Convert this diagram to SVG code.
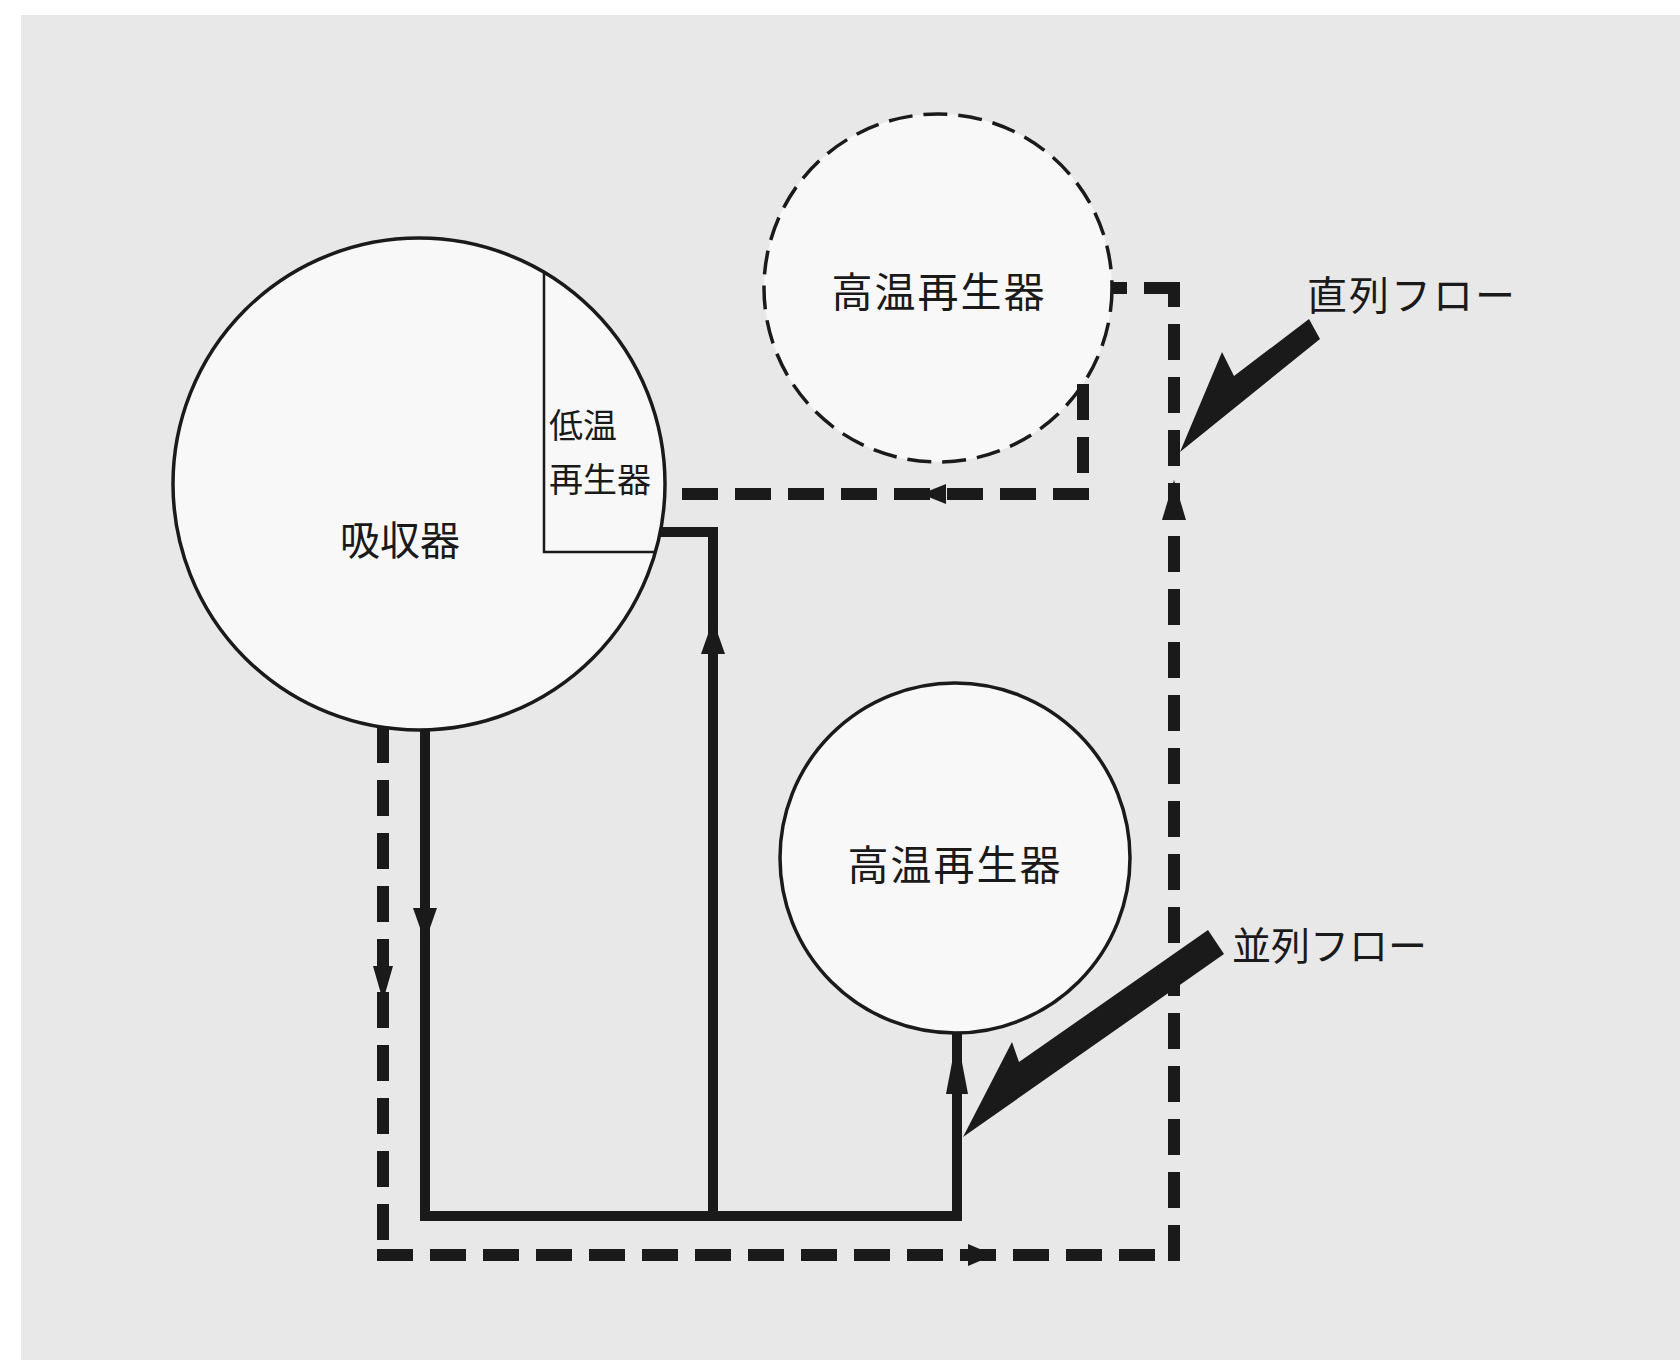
<svg xmlns="http://www.w3.org/2000/svg" width="1680" height="1360" viewBox="0 0 1680 1360">
<style>
.vessel{fill:#f8f8f8;stroke:#1a1a1a;stroke-width:3.5}
.vdash{fill:#f8f8f8;stroke:#1a1a1a;stroke-width:3.5;stroke-dasharray:24 11}
.thin{fill:none;stroke:#1a1a1a;stroke-width:2.5}
.solid{fill:none;stroke:#1a1a1a;stroke-width:10;stroke-linejoin:miter}
.dash{fill:none;stroke:#1a1a1a;stroke-width:12;stroke-dasharray:36 17}
.head{fill:#1a1a1a;stroke:none}
.lbl{font-family:"Noto Sans CJK JP","Noto Sans CJK SC",sans-serif;fill:#1a1a1a}
</style>
<rect x="0" y="0" width="1680" height="1360" fill="#ffffff"/>
<rect x="21" y="15" width="1659" height="1345" fill="#e8e8e8"/>

<g id="absorber">
<circle class="vessel" cx="419" cy="484" r="246"/>
<text class="lbl" x="340" y="555" font-size="40">吸収器</text>
</g>
<g id="low-temp-regenerator">
<path class="thin" d="M544,273 L544,552 L655,552"/>
<text class="lbl" x="549" y="438" font-size="34">低温</text>
<text class="lbl" x="549" y="492" font-size="34">再生器</text>
</g>
<g id="high-temp-regenerator-series">
<circle class="vdash" cx="938" cy="288" r="174"/>
<text class="lbl" x="939" y="307" font-size="41" letter-spacing="2" text-anchor="middle">高温再生器</text>
</g>
<g id="high-temp-regenerator-parallel">
<circle class="vessel" cx="955" cy="858" r="175"/>
<text class="lbl" x="955" y="880" font-size="41" letter-spacing="2" text-anchor="middle">高温再生器</text>
</g>

<g id="connectors">
<path class="solid" d="M425,730 L425,1216 L957,1216 L957,1033"/>
<path class="solid" d="M713,1216 L713,532 L660,532"/>
<polygon class="head" points="413,908 437,908 425,942"/>
<polygon class="head" points="701,654 725,654 713,620"/>
<polygon class="head" points="946,1094 968,1094 957,1036"/>
<path class="dash" d="M383,727 L383,1261"/>
<path class="dash" d="M377,1255 L1180,1255"/>
<path class="dash" d="M1174,1261 L1174,282"/>
<path class="dash" d="M1180,288 L1112,288"/>
<path class="dash" d="M1083,384 L1083,500"/>
<path class="dash" d="M1089,494 L665,494"/>
<polygon class="head" points="373,966 393,966 383,1001"/>
<polygon class="head" points="968,1244 968,1266 994,1255"/>
<polygon class="head" points="1162,520 1186,520 1174,480"/>
<polygon class="head" points="946,484 946,504 921,494"/>
<polygon class="head" points="1180,452 1222,352 1234,376 1309,319 1320,339"/>
<polygon class="head" points="963,1137 1012,1042 1019,1062 1208,930 1224,954"/>
</g>

<g id="labels">
<text class="lbl" x="1307" y="310" font-size="40" letter-spacing="2">直列フロー</text>
<text class="lbl" x="1232" y="960" font-size="39">並列フロー</text>
</g>
</svg>
